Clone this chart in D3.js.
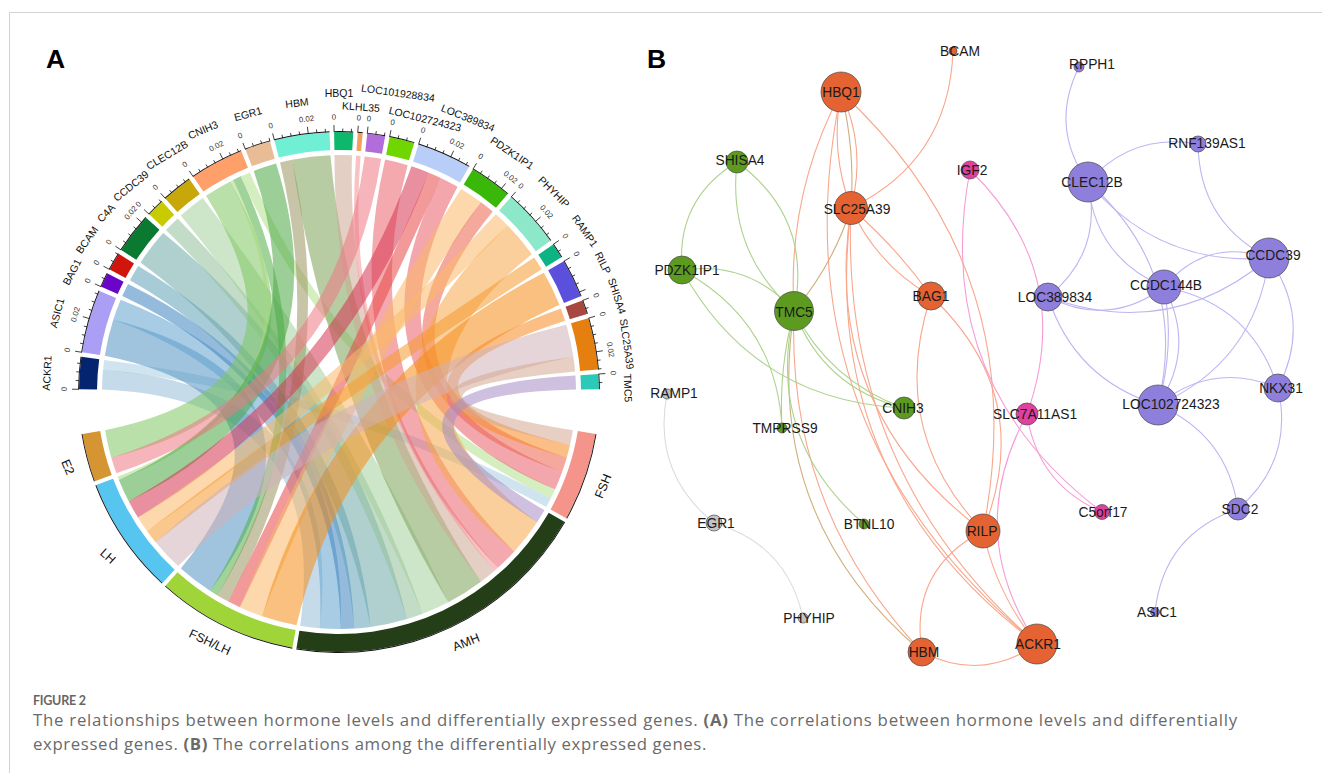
<!DOCTYPE html>
<html><head><meta charset="utf-8">
<script src="https://d3js.org/d3.v7.min.js"></script>
<style>
html,body{margin:0;padding:0;background:#fff;overflow:hidden}
svg{display:block;background:#fff}
text{font-family:"Liberation Sans",Arial,sans-serif}
.cap{font-family:"Open Sans",Lato,sans-serif}
.fig{font-family:Lato,sans-serif}
</style></head><body>
<svg id="c" width="1322" height="773"></svg>
<script>
// ---------- Panel A data ----------
const genes = ["ACKR1","ASIC1","BAG1","BCAM","C4A","CCDC39","CLEC12B","CNIH3","EGR1","HBM","HBQ1","KLHL35","LOC101928834","LOC102724323","LOC389834","PDZK1IP1","PHYHIP","RAMP1","RILP","SHISA4","SLC25A39","TMC5"];
const hormones = ["FSH","AMH","FSH/LH","LH","E2"];
// link strength gene -> hormone, aligned with genes
const toE2    = [0,0,0,0,0,0,0,.0179,0,0,0,0,.0105,0,0,0,0,0,0,0,0,0];
const toLH    = [0,0,0,0,0,0,0,.0021,.015,0,0,0,0,0,.0118,0,.0105,.0089,0,0,.0208,0];
const toFSHLH = [0,.0237,0,0,0,0,0,.0053,0,.0079,0,0,0,0,.0082,.0153,0,0,.0226,0,0,0];
const toAMH   = [.0126,.0134,.0085,.0105,.0237,.0105,.0179,0,0,.0245,.0111,.0029,0,.0147,0,0,.0237,0,0,0,0,.0089];
const toFSH   = [.0063,0,0,0,0,0,0,.0063,0,0,0,0,0,0,.0121,.0095,0,0,0,.0082,.0095,0];
const tickLabelEvery = 0.02, tickStep = 0.005, minSpanForLabel = 0.023;

// ---------- Panel A styles ----------
const geneColors = ["#04246f","#ab9ff5","#6a05c8","#d0150c","#0a7a30","#c7cb00","#c8a808","#ff9f6a","#e8bc94","#70efd5","#0db76c","#f2a060","#b06ddb","#70d600","#b8cef8","#39b80a","#8ce8c8","#0cb483","#5a50dd","#a84840","#e57f10","#2cc8b8"];
const hormoneColors = {"FSH":"#f4948a","AMH":"#243f18","FSH/LH":"#a0d53a","LH":"#56c5ef","E2":"#d69533"};
const linkColorE2    = {CNIH3:"#b8e0a8",LOC101928834:"#f5b5bb"};
const linkColorLH    = {CNIH3:"#cfe9b8",EGR1:"#9ccf98",LOC389834:"#e890a0",PHYHIP:"#fcd8ac",RAMP1:"#fac88c",SLC25A39:"#e5d4d8"};
const linkColorFSHLH = {ASIC1:"#a0c4de",CNIH3:"#9fd39a",HBM:"#c8c4a8",LOC389834:"#f29a9a",PDZK1IP1:"#fcd8ac",RILP:"#fac080"};
const linkColorAMH   = {ACKR1:"#c5dbea",ASIC1:"#a8cce4",BAG1:"#95bbdc",BCAM:"#a8cbd8",C4A:"#afd0cf",CCDC39:"#c3dcc8",CLEC12B:"#cde5c8",HBM:"#b8cca4",HBQ1:"#e4cfc4",KLHL35:"#f9c3c6",LOC102724323:"#f3a9ae",PHYHIP:"#fbcf9b",TMC5:"#cec0de"};
const linkColorFSH   = {ACKR1:"#cfe4ee",CNIH3:"#d5eec0",LOC389834:"#f3a6ac",PDZK1IP1:"#f5a99c",SHISA4:"#fbbf85",SLC25A39:"#e8cfc3"};
const linkAlpha = 0.55;

// label anchor [x, y, rotation]
const geneLabelPos = {ACKR1:[47,373,-87],ASIC1:[57,313,-75],BAG1:[72,272,-62],BCAM:[87,240,-55],C4A:[106,213,-47],CCDC39:[131,186,-39],CLEC12B:[167,155,-31],CNIH3:[203,130,-23],EGR1:[248,114,-15],HBM:[297,103,-7],HBQ1:[339,93,0],KLHL35:[361,107,4],LOC101928834:[398,93,8],LOC102724323:[425,119,14],LOC389834:[468,118,22],PDZK1IP1:[512,153,34],PHYHIP:[554,192,45],RAMP1:[585,231,55],RILP:[603,263,63],SHISA4:[617,296,72],SLC25A39:[627,344,82],TMC5:[628,388,88]};
const hormoneLabelPos = {"FSH":[603,486,-68],"AMH":[466,642,-22],"FSH/LH":[210,642,25],"LH":[108,556,42],"E2":[68,467,67]};

// ---------- Panel B data ----------
const nodeNames = ["HBQ1","BCAM","SHISA4","IGF2","SLC25A39","PDZK1IP1","TMC5","BAG1","RPPH1","RNF139AS1","CLEC12B","CCDC39","CCDC144B","LOC389834","RAMP1","TMPRSS9","CNIH3","EGR1","BTNL10","PHYHIP","HBM","RILP","SLC7A11AS1","C5orf17","LOC102724323","NKX31","SDC2","ASIC1","ACKR1"];
const nodeX = [841,953,737,970,851,682,794,931,1079,1198,1088,1269,1164,1048,667,782,904,714,864,803,922,983,1027,1102,1158,1278,1238,1155,1037];
const nodeY = [92,51,162,170,208,270,311,296,67,144,182,258,287,297,394,428,408,523,524,618,652,531,414,512,405,388,509,612,644];
const nodeDegree = [20,4,11,9,16.5,14,19.5,14,5,8,20,20,17,14,5,5,11,8,5,5,14,17,11,7.5,20,14,11,4.5,20];
const nodeGroup = ["o","o","g","k","o","g","g","o","p","p","p","p","p","p","n","g","g","n","g","n","o","o","k","k","p","p","p","p","o"];
const labelX = [841,960,740,972,857,687,794,931,1092,1207,1092,1273,1166,1055,674,785,903,716,869,809,924,982,1035,1103,1171,1281,1240,1157,1038];
const labelY = [92,51,160,170,209,270,312,296,64,143,182,255,285,297,393,428,408,523,524,618,652,531,414,512,404,388,509,612,644];
// edges: source, target, bend (midpoint offset / length), colour key
const edgeSource = ["HBQ1","HBQ1","HBQ1","HBQ1","HBQ1","HBQ1","SLC25A39","SLC25A39","SLC25A39","BAG1","BAG1","RILP","TMC5","TMC5","RILP","HBM","SLC25A39","SLC25A39","SLC25A39","TMC5",
 "SHISA4","SHISA4","SHISA4","PDZK1IP1","PDZK1IP1","PDZK1IP1","TMC5","TMC5","TMC5","TMC5",
 "RPPH1","RNF139AS1","RNF139AS1","CLEC12B","CLEC12B","CLEC12B","CLEC12B","CCDC39","CCDC39","CCDC144B","CCDC144B","CCDC144B","CCDC144B","CCDC39","CCDC39","LOC389834","LOC102724323","LOC102724323","NKX31","SDC2",
 "IGF2","IGF2","SLC7A11AS1","SLC7A11AS1","RAMP1","EGR1"];
const edgeTarget = ["SLC25A39","SLC25A39","SLC25A39","TMC5","ACKR1","RILP","ACKR1","ACKR1","RILP","RILP","RILP","ACKR1","HBM","HBM","HBM","ACKR1","BAG1","BAG1","BCAM","SLC25A39",
 "PDZK1IP1","TMC5","TMC5","TMC5","CNIH3","TMPRSS9","CNIH3","CNIH3","BTNL10","TMPRSS9",
 "CLEC12B","CLEC12B","CCDC39","LOC389834","CCDC144B","LOC102724323","CCDC39","CCDC144B","LOC389834","LOC389834","LOC102724323","LOC102724323","NKX31","NKX31","LOC102724323","LOC102724323","NKX31","SDC2","SDC2","ASIC1",
 "C5orf17","SLC7A11AS1","C5orf17","ACKR1","EGR1","PHYHIP"];
const edgeBend = [-.07,.04,.09,-.07,-.15,.14,-.145,-.12,-.15,-.15,.17,-.06,-.105,-.14,-.18,-.15,.03,-.08,-.15,-.05,
 -.155,-.13,.16,.135,-.14,.14,-.1,-.13,-.15,-.04,
 -.15,-.14,-.15,.155,-.15,.15,-.13,-.17,.145,.155,.06,.15,.15,.15,.14,-.13,.15,.14,.15,-.16,
 -.155,.16,-.14,-.15,-.15,.15];
const edgeKey = ["o","y","o","o","o","o","o","o","o","o","o","o","o","y","o","o","o","o","o","y",
 "g","g","g","g","g","g","g","g","g","g",
 "p","p","p","p","p","p","p","p","p","p","p","p","p","p","p","p","p","p","p","p",
 "k","k","k","k","n","n"];
const nodeFill = {o:"#e56232",g:"#5c9b20",p:"#8f7fdc",k:"#e040a0",n:"#c4c4c4"};
const edgeStroke = {o:"#f9a78c",y:"#cdb07c",g:"#aed28e",p:"#bcb6f2",k:"#f79bd6",n:"#dcdcdc"};

const svg = d3.select("#c");
// frame
svg.append("path").attr("d","M1322 12.5H9.5V773").attr("fill","none").attr("stroke","#d2d2d2").attr("stroke-width",1);
svg.append("text").attr("x",46).attr("y",68).attr("font-size",26.5).attr("font-weight",700).attr("fill","#000").text("A");
svg.append("text").attr("x",647).attr("y",68).attr("font-size",26.5).attr("font-weight",700).attr("fill","#000").text("B");

// ---------- chord ----------
const rad = Math.PI/180;
const cx=339, cy=392, R=260, Rin=242, Rib=237, ribbonKeep=0.42;
const angle = d3.scaleLinear().domain([0,1]).range([0,380*rad]);
const matrix = {"E2":toE2,"LH":toLH,"FSH/LH":toFSHLH,"AMH":toAMH,"FSH":toFSH};
const linkColors = {"E2":linkColorE2,"LH":linkColorLH,"FSH/LH":linkColorFSHLH,"AMH":linkColorAMH,"FSH":linkColorFSH};
const geneOutOrder = ["E2","LH","FSH/LH","AMH","FSH"];
const ptOn=(ang,r)=>[r*Math.sin(ang),-r*Math.cos(ang)];

const g = svg.append("g").attr("transform",`translate(${cx},${cy})`);
// gene layout
const geneStart=[], geneEnd=[], geneSlots=[];
let a = -89.4*rad; const gapG = 1*rad, gapH = .9*rad;
genes.forEach((n,i)=>{
  const total = d3.sum(geneOutOrder,h=>matrix[h][i]);
  geneStart[i]=a; let s=a; const slots={};
  geneOutOrder.forEach(h=>{const w=angle(matrix[h][i]); if(w>0){slots[h]=[s,s+w]; s+=w;}});
  geneSlots[i]=slots; a+=angle(total); geneEnd[i]=a; a+=gapG;
});
// hormone layout
const hormoneStart={}, hormoneEnd={}, hormoneSlots={};
a = 99.3*rad;
hormones.forEach(h=>{
  hormoneStart[h]=a; const slots={};
  for(let i=genes.length-1;i>=0;i--){const w=angle(matrix[h][i]); if(w>0){slots[i]=[a,a+w]; a+=w;}}
  hormoneSlots[h]=slots; hormoneEnd[h]=a; a+=gapH;
});
// ribbons: each edge's midpoint is set so the band keeps most of its width through the middle
function norm(d){while(d>Math.PI)d-=2*Math.PI;while(d<-Math.PI)d+=2*Math.PI;return d;}
function ribbonPath(gs,hs){
  const gm=(gs[0]+gs[1])/2, hm=(hs[0]+hs[1])/2, diff=norm(hm-gm);
  const A=ptOn(gm,Rib), B=ptOn(hm,Rib), d=Math.hypot((A[0]+B[0])/2,(A[1]+B[1])/2);
  const dirAng=gm+diff/2;
  const hw=ribbonKeep*Rib*((gs[1]-gs[0])+(hs[1]-hs[0]))/2;
  const sgn=diff>=0?1:-1;
  const ctrl=(P,Q,s)=>{
    const T=ptOn(dirAng,d/2+s*hw);
    return [2*T[0]-(P[0]+Q[0])/2,2*T[1]-(P[1]+Q[1])/2];
  };
  const p=d3.path(), off=-Math.PI/2;
  const P0=ptOn(gs[0],Rib), P1=ptOn(gs[1],Rib), Q0=ptOn(hs[0],Rib), Q1=ptOn(hs[1],Rib);
  const c1=ctrl(P1,Q0,sgn), c2=ctrl(Q1,P0,-sgn);
  p.moveTo(P0[0],P0[1]);
  p.arc(0,0,Rib,gs[0]+off,gs[1]+off);
  p.quadraticCurveTo(c1[0],c1[1],Q0[0],Q0[1]);
  p.arc(0,0,Rib,hs[0]+off,hs[1]+off);
  p.quadraticCurveTo(c2[0],c2[1],P0[0],P0[1]);
  p.closePath();
  return p.toString();
}
function baseColor(hex){
  const c=d3.rgb(hex), f=v=>Math.max(0,Math.min(255,(v-255*(1-linkAlpha))/linkAlpha));
  return d3.rgb(f(c.r),f(c.g),f(c.b)).formatHex();
}
const gLinks = g.append("g");
genes.forEach((n,i)=>{
  geneOutOrder.forEach(h=>{
    if(matrix[h][i]<=0) return;
    gLinks.append("path").attr("d",ribbonPath(geneSlots[i][h],hormoneSlots[h][i]))
      .attr("fill",baseColor(linkColors[h][n])).attr("fill-opacity",linkAlpha);
  });
});
// tracks
const trackArc = d3.arc().innerRadius(Rin).outerRadius(R);
const axisArc = d3.arc().innerRadius(R).outerRadius(R+.9);
genes.forEach((n,i)=>{
  g.append("path").attr("d",trackArc({startAngle:geneStart[i],endAngle:geneEnd[i]})).attr("fill",geneColors[i]);
  g.append("path").attr("d",axisArc({startAngle:geneStart[i],endAngle:geneEnd[i]})).attr("fill","#111");
  const span=angle.invert(geneEnd[i]-geneStart[i]);
  d3.range(0,span+1e-9,tickStep).forEach(v=>{
    const an=geneStart[i]+angle(v), major=Math.abs(v%tickLabelEvery)<1e-9||Math.abs(v%tickLabelEvery-tickLabelEvery)<1e-9;
    const p0=ptOn(an,R), p1=ptOn(an,R+(major?7:3.5));
    g.append("line").attr("x1",p0[0]).attr("y1",p0[1]).attr("x2",p1[0]).attr("y2",p1[1]).attr("stroke","#111").attr("stroke-width",.8);
    if(major&&(v<1e-9||span>=minSpanForLabel)){
      const pl=ptOn(an,R+15);
      g.append("text").attr("transform",`translate(${pl[0]},${pl[1]}) rotate(${an/rad})`)
       .attr("text-anchor","middle").attr("dy","0.35em").attr("font-size",7.8).attr("fill","#333").text(v<1e-9?"0":d3.format(".2f")(v));
    }
  });
  const lp=geneLabelPos[n];
  svg.append("text").attr("transform",`translate(${lp[0]},${lp[1]}) rotate(${lp[2]})`)
   .attr("text-anchor","middle").attr("dy","0.35em").attr("font-size",10.5).attr("fill","#111").text(n);
});
hormones.forEach(h=>{
  g.append("path").attr("d",trackArc({startAngle:hormoneStart[h],endAngle:hormoneEnd[h]})).attr("fill",hormoneColors[h]);
  g.append("path").attr("d",axisArc({startAngle:hormoneStart[h],endAngle:hormoneEnd[h]})).attr("fill","#111");
  const lp=hormoneLabelPos[h];
  svg.append("text").attr("transform",`translate(${lp[0]},${lp[1]}) rotate(${lp[2]})`)
   .attr("text-anchor","middle").attr("dy","0.35em").attr("font-size",12.5).attr("fill","#111").text(h);
});

// ---------- network ----------
const xs=d3.scaleIdentity(), ys=d3.scaleIdentity(), rs=d3.scaleIdentity();
const idx=new Map(nodeNames.map((n,i)=>[n,i]));
const gEdges=svg.append("g").attr("fill","none").attr("stroke-width",1.1);
edgeSource.forEach((s,i)=>{
  const a1=idx.get(s), b1=idx.get(edgeTarget[i]);
  const x0=xs(nodeX[a1]), y0=ys(nodeY[a1]), x1=xs(nodeX[b1]), y1=ys(nodeY[b1]);
  const dx=x1-x0, dy=y1-y0;
  const p=d3.path(); p.moveTo(x0,y0);
  p.quadraticCurveTo((x0+x1)/2+2*edgeBend[i]*dy,(y0+y1)/2-2*edgeBend[i]*dx,x1,y1);
  gEdges.append("path").attr("d",p.toString()).attr("stroke",edgeStroke[edgeKey[i]]);
});
svg.append("g").selectAll("circle").data(nodeNames).join("circle")
  .attr("cx",(d,i)=>xs(nodeX[i])).attr("cy",(d,i)=>ys(nodeY[i])).attr("r",(d,i)=>rs(nodeDegree[i]))
  .attr("fill",(d,i)=>nodeFill[nodeGroup[i]]).attr("stroke","#4a4a4a").attr("stroke-width",.7);
svg.append("g").selectAll("text").data(nodeNames).join("text")
  .attr("x",(d,i)=>labelX[i]).attr("y",(d,i)=>labelY[i]).attr("dy","0.35em").attr("text-anchor","middle")
  .attr("font-size",13.8).attr("fill","#1a1a1a").text(d=>d);

// ---------- caption ----------
svg.append("text").attr("class","fig").attr("x",33).attr("y",705).attr("font-size",12.5).attr("font-weight",700).attr("fill","#666").attr("letter-spacing",-.25).text("FIGURE 2");
function fit(t,w){const l=t.node().getComputedTextLength();const n=t.text().length;t.attr("letter-spacing",(w-l)/n);}
const line1=svg.append("text").attr("class","cap").attr("x",33).attr("y",725.5).attr("font-size",16.8).attr("fill","#6a6a6a");
line1.append("tspan").text("The relationships between hormone levels and differentially expressed genes. ");
line1.append("tspan").attr("font-weight",700).text("(A)");
line1.append("tspan").text(" The correlations between hormone levels and differentially");
fit(line1,1205);
const line2=svg.append("text").attr("class","cap").attr("x",33).attr("y",750).attr("font-size",16.8).attr("fill","#6a6a6a");
line2.append("tspan").text("expressed genes. ");
line2.append("tspan").attr("font-weight",700).text("(B)");
line2.append("tspan").text(" The correlations among the differentially expressed genes.");
fit(line2,674);
</script>
</body></html>
